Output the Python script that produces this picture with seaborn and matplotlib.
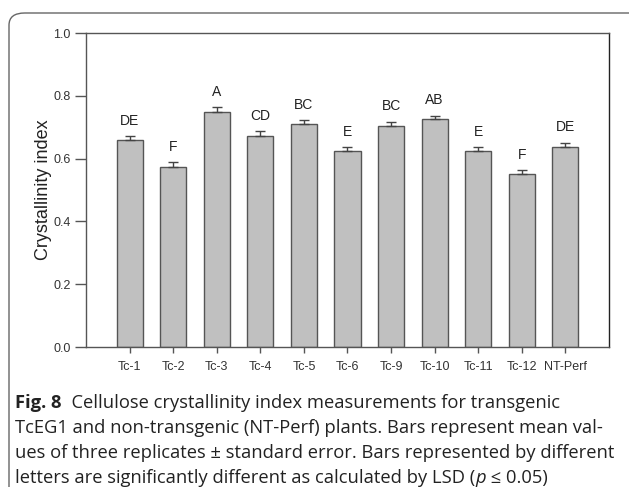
"""Fig. 8 cellulose crystallinity index bar chart."""
import matplotlib
matplotlib.use("Agg")
import matplotlib.pyplot as plt
from matplotlib.patches import FancyBboxPatch
import numpy as np
import seaborn as sns

lines = ["Tc-1", "Tc-2", "Tc-3", "Tc-4", "Tc-5", "Tc-6", "Tc-9", "Tc-10", "Tc-11", "Tc-12", "NT-Perf"]
crystallinity = [0.659, 0.574, 0.750, 0.672, 0.709, 0.623, 0.704, 0.725, 0.623, 0.551, 0.636]
std_err = [0.013, 0.014, 0.015, 0.015, 0.013, 0.013, 0.014, 0.012, 0.013, 0.012, 0.015]
lsd_letters = ["DE", "F", "A", "CD", "BC", "E", "BC", "AB", "E", "F", "DE"]

sns.set_style("white")
plt.rcParams["font.family"] = ["Liberation Sans", "DejaVu Sans"]

fig = plt.figure(figsize=(6.29, 4.87), dpi=100)
ax = fig.add_axes([86 / 629, 1 - 347 / 487, 523 / 629, 314 / 487])

sns.barplot(x=lines, y=crystallinity, color="#c0c0c0", edgecolor="#555555",
            linewidth=1.0, width=0.6, saturation=1, ax=ax)
xpos = np.arange(len(lines))
ax.errorbar(xpos, crystallinity, yerr=[np.zeros(len(lines)), std_err], fmt="none",
            ecolor="#444444", elinewidth=1.0, capsize=3.5, capthick=1.0)
for x, v, e, lab in zip(xpos, crystallinity, std_err, lsd_letters):
    ax.text(x, v + e + 0.026, lab, ha="center", va="bottom", fontsize=10, color="#222222")

ax.set_xlim(-1, len(lines))
ax.set_ylim(0, 1.0)
ax.set_yticks(np.arange(0, 1.01, 0.2))
ax.set_yticklabels([f"{t:.1f}" for t in np.arange(0, 1.01, 0.2)])
ax.set_ylabel("Crystallinity index", fontsize=13, color="#222222", labelpad=1)
ax.tick_params(axis="y", left=True, length=8, width=1, color="#555555", labelsize=9,
               labelcolor="#333333", pad=3)
ax.tick_params(axis="x", bottom=True, length=4, width=1, color="#555555", labelsize=9,
               labelcolor="#333333", pad=6)
for side, sp in ax.spines.items():
    sp.set_visible(True)
    sp.set_color("#555555" if side in ("left", "bottom", "top") else "#222222")
    sp.set_linewidth(1.0)

# rounded frame around figure + caption, clipped on the right and bottom
frame = FancyBboxPatch((9 / 629, -0.2), 1.2, 1 - 13 / 487 + 0.2,
                       boxstyle="round,pad=0,rounding_size=0.025",
                       transform=fig.transFigure, fill=False,
                       edgecolor="#666666", linewidth=1.0)
fig.patches.append(frame)

cap_font = ["Open Sans", "DejaVu Sans"]
cap_size = 13.2
renderer = fig.canvas.get_renderer()


def write_segments(x0, y0, segments):
    x = x0
    for txt, kw in segments:
        t = fig.text(x, y0, txt, fontsize=cap_size, family=cap_font, color="#222222",
                     va="baseline", ha="left", **kw)
        bb = t.get_window_extent(renderer=renderer)
        x += bb.width / fig.bbox.width


x_left = 15 / 629
write_segments(x_left, 1 - 408 / 487, [("Fig. 8", {"fontweight": "bold"}),
                                        ("  Cellulose crystallinity index measurements for transgenic", {})])
write_segments(x_left, 1 - 433 / 487, [("TcEG1 and non-transgenic (NT-Perf) plants. Bars represent mean val-", {})])
write_segments(x_left, 1 - 458 / 487, [("ues of three replicates \u00b1 standard error. Bars represented by different", {})])
write_segments(x_left, 1 - 483 / 487, [("letters are significantly different as calculated by LSD (", {}),
                                        ("p", {"style": "italic"}),
                                        (" \u2264 0.05)", {})])

fig.savefig("out.png", dpi=100)
